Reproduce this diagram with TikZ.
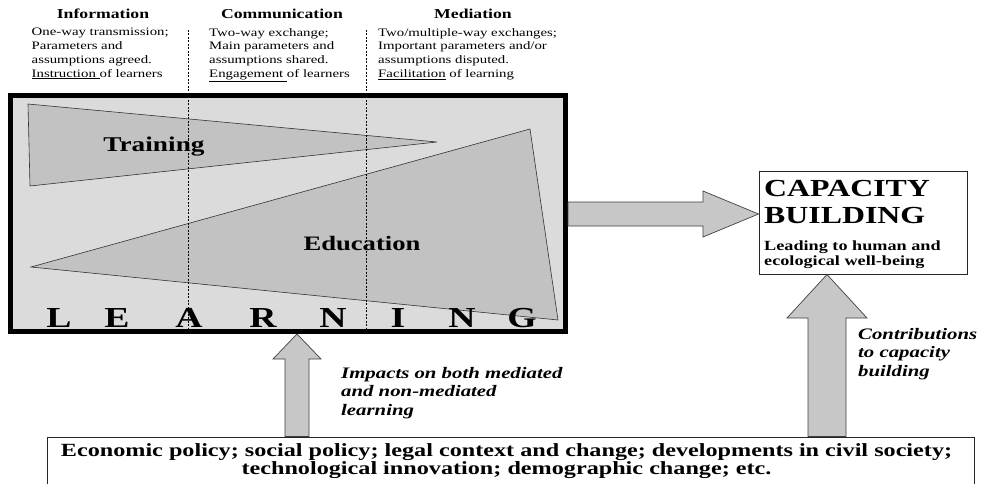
\documentclass[tikz,border=0pt]{standalone}
\usepackage{fontspec}
\setmainfont{Liberation Serif}[FakeStretch=1.3]
\begin{document}
\begin{tikzpicture}[x=1pt,y=-1pt,
  hdr/.style={font=\fontsize{13.6}{15}\selectfont\bfseries, anchor=base},
  desc/.style={font=\fontsize{11.4}{13.8}\selectfont, align=left, anchor=north west, inner sep=0pt},
  tri/.style={draw=black!80, line width=0.6pt, fill=black!24},
  blockarrow/.style={draw=black!75, line width=0.7pt, fill=black!22},
  divider/.style={line width=0.5pt, dash pattern=on 2pt off 1.5pt},
  bigletter/.style={font=\fontsize{29}{30}\selectfont\bfseries, anchor=base},
  italab/.style={font=\fontsize{16}{18.5}\selectfont\bfseries\itshape, align=left, anchor=north west, inner sep=0pt},
  capbig/.style={font=\fontsize{24.5}{26}\selectfont\bfseries, anchor=base west, inner sep=0pt},
  capsmall/.style={font=\fontsize{14}{15}\selectfont\bfseries, anchor=base west, inner sep=0pt},
  ctxtext/.style={font=\fontsize{18.6}{19}\selectfont\bfseries, anchor=base}
]
\useasboundingbox (0,0) rectangle (982,484);
\fill[white] (0,0) rectangle (982,484);

% headers
\node[hdr] (hinfo) at (103,19) {Information};
\node[hdr] (hcomm) at (282,19) {Communication};
\node[hdr] (hmed) at (473,19) {Mediation};

\node[desc] (dinfo) at (31.5,28) {One-way transmission;\\Parameters and\\assumptions agreed.\\\underline{Instruction }of learners};
\node[desc] (dcomm) at (209,28) {Two-way exchange;\\Main parameters and\\assumptions shared.\\\underline{Engagement }of learners};
\node[desc] (dmed) at (378,28) {Two/multiple-way exchanges;\\Important parameters and/or\\assumptions disputed.\\\underline{Facilitation} of learning};

% learning box
\node[draw, line width=5pt, fill=black!14, minimum width=555pt, minimum height=236pt, inner sep=0pt] (learn) at (288,213.5) {};

% triangles
\draw[tri] (28,104) -- (437,142) -- (30,186) -- cycle;
\draw[tri] (530,129) -- (31,267) -- (558,320) -- cycle;
\node[font=\fontsize{21}{22}\selectfont\bfseries] (training) at (154,147) {Training};
\node[font=\fontsize{20.5}{22}\selectfont\bfseries] (education) at (362,244) {Education};

% dividers
\coordinate (d1t) at (188,30);
\coordinate (d1b) at (188,331);
\coordinate (d2t) at (366,30);
\coordinate (d2b) at (366,331);
\draw[divider] (d1t) -- (d1b);
\draw[divider] (d2t) -- (d2b);

% LEARNING letters
\node[bigletter] (l1) at (59,327) {L};
\node[bigletter] (l2) at (117,327) {E};
\node[bigletter] (l3) at (189,327) {A};
\node[bigletter] (l4) at (263,327) {R};
\node[bigletter] (l5) at (333,327) {N};
\node[bigletter] (l6) at (398,327) {I};
\node[bigletter] (l7) at (462,327) {N};
\node[bigletter] (l8) at (522,327) {G};

% capacity box
\node[draw=black!85, line width=1pt, minimum width=208pt, minimum height=103pt, inner sep=0pt] (cap) at (863,222.5) {};
\node[capbig] (capt1) at (764,196) {CAPACITY};
\node[capbig] (capt2) at (764,223) {BUILDING};
\node[capsmall] (capt3) at (764,250) {Leading to human and};
\node[capsmall] (capt4) at (764,265) {ecological well-being};

% bottom box
\node[draw=black!85, line width=1pt, minimum width=927pt, minimum height=56pt, inner sep=0pt] (ctx) at (510.5,465) {};
\node[ctxtext] (ctx1) at (506.5,456.5) {Economic policy; social policy; legal context and change; developments in civil society;};
\node[ctxtext] (ctx2) at (506.5,474) {technological innovation; demographic change; etc.};

% block arrows
\draw[blockarrow] (learn.east |- 0,202) -- (703,202) -- (703,191) -- (cap.west |- 0,214) -- (703,237) -- (703,226) -- (learn.east |- 0,226) -- cycle;
\draw[blockarrow] (285,0 |- ctx.north) -- (285,359) -- (273,359) -- (297,0 |- learn.south) -- (321,359) -- (309,359) -- (309,0 |- ctx.north) -- cycle;
\draw[blockarrow] (808,0 |- ctx.north) -- (808,318) -- (787,318) -- (827,0 |- cap.south) -- (867,318) -- (846,318) -- (846,0 |- ctx.north) -- cycle;

% italic labels
\node[italab] (lab1) at (341,367) {Impacts on both mediated\\and non-mediated\\learning};
\node[italab] (lab2) at (858,328) {Contributions\\to capacity\\building};
\end{tikzpicture}
\end{document}
